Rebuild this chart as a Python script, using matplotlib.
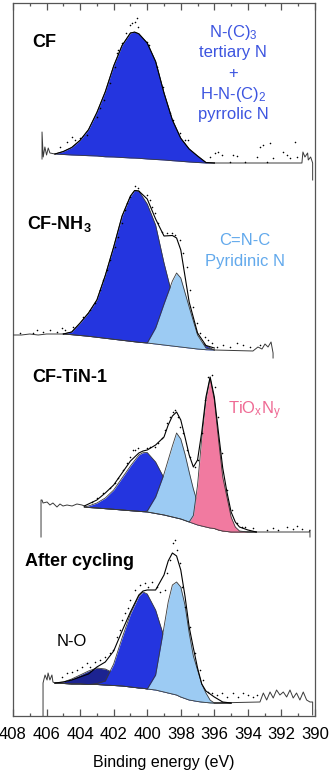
import numpy as np
import matplotlib
matplotlib.use("Agg")
import matplotlib.pyplot as plt
from matplotlib.ticker import MultipleLocator

plt.rcParams["font.family"] = ["Liberation Sans", "DejaVu Sans"]
plt.rcParams["mathtext.fontset"] = "custom"
plt.rcParams["mathtext.rm"] = "Liberation Sans"
plt.rcParams["mathtext.it"] = "Liberation Sans:italic"
plt.rcParams["mathtext.bf"] = "Liberation Sans:bold"

# colours
BLUE = "#2435df"
LIGHT = "#9ccbf3"
PINK = "#f17aa0"
NAVY = "#1c2391"
EDGE = "#3a3a3a"

# ---------------- CF ----------------
cf_offset = 553
cf_e = [405.5, 405, 404.5, 404, 403.5, 403, 402.5, 402, 401.5, 401, 400.75, 400.5,
        400, 399.5, 399, 398.5, 398, 397.5, 397, 396.5, 396]
cf_base = [9, 8.5, 8, 7.7, 7.3, 7, 6.2, 6, 5.5, 5, 4.9, 4.7, 4, 3.5, 3, 2.3, 1.7, 1, 0.5, 0, 0]
cf_pyrrolic = [0, 3, 7.5, 15, 26, 43.5, 65, 91, 112, 125, 126, 124.5, 116, 98, 67, 40.7,
               23, 13, 6.5, 0.5, 0]
cf_raw_left_e = [406.27, 406.27, 406.2, 406.1, 406.0, 405.9, 405.8, 405.5]
cf_raw_left = [4, 31, 6, 16, 8, 15, 10, 9]
cf_raw_right_e = [396, 390.78, 390.72, 390.6, 390.44, 390.4, 390.26, 390.14, 390.14]
cf_raw_right = [0, 0, 11, 6, 10, 3, 6, 0, -17]
cf_dots_e = [405.2, 404.78, 404.48, 404.3, 404.0, 403.6, 403.0, 402.8, 402.6, 402.2, 401.9,
             401.8, 401.74, 401.5, 401.27, 401.0, 400.9, 400.73, 400.6, 400.55, 400.0, 399.9,
             399.4, 399.06, 398.64, 398.46, 398.05, 397.75, 397.57, 396.26, 395.96, 395.78,
             395.55, 395.07, 394.9, 394.65, 394.17, 393.46, 393.28, 393.1, 392.86, 392.68,
             392.5, 391.9, 391.67, 391.5, 391.2, 391.07]
cf_dots = [16, 21, 26, 23, 25, 28, 46, 55, 63, 80, 96, 110, 113, 120, 130, 138, 140, 141,
           145, 136, 121, 118, 96, 76, 50, 43, 30, 23, 23, 6, 10, 11, 8, 1, 8, 7, 1, 6, 16,
           18, 1, 20, 5, 11, 8, 5, 21, 6]

# ---------------- CF-NH3 ----------------
nh_offset = 366
nh_e = [405, 404.5, 404, 403.5, 403, 402.5, 402, 401.5, 401, 400.75, 400.5, 400, 399.5,
        399, 398.5, 398.25, 398, 397.5, 397, 396.5, 396]
nh_base = [16, 15.3, 14.5, 13.7, 12.7, 11.7, 10.7, 9.7, 8.7, 8.2, 7.7, 7, 6, 5, 4, 3.5, 3,
           2, 1, 0.3, 0]
nh_pyrrolic = [0, 2.7, 12.5, 23.3, 37.3, 62.8, 92.3, 124, 145, 151.3, 151.3, 139, 119, 82,
               50, 39, 30, 18, 9, 4, 0]
nh_pyridinic = [0, 0, 0, 0, 0, 0, 0, 0, 0, 0, 0, 0, 16, 41, 65, 73.5, 69, 41, 14, 1.7, 0]
nh_env = [16, 18, 27, 37, 50, 74.5, 103, 134, 154, 159.5, 159, 151, 131, 114, 114.5, 112,
          100, 48, 17, 4.5, 2]
nh_raw_left_e = [408, 407.5, 407, 406.5, 406, 405.5, 405]
nh_raw_left = [15, 15, 16, 15, 16, 16, 16]
nh_raw_right_e = [396, 393.7, 393.4, 393.16, 392.98, 392.8, 392.62, 392.5, 392.5]
nh_raw_right = [0, -1, 3, 1, 6, 3, 8, -3, -8]
nh_dots_e = [407.58, 406.81, 406.57, 406.21, 405.8, 405.38, 405.08, 404.9, 404.42, 403.83,
             403.41, 403.11, 402.82, 402.64, 402.4, 402.22, 401.92, 401.74, 401.5, 401.33,
             401.21, 401.03, 400.73, 400.55, 400.01, 399.84, 399.72, 399.54, 399.36, 399.12,
             398.82, 398.52, 398.34, 398.05, 397.87, 397.63, 397.45, 397.27, 397.03, 396.86,
             396.56, 396.38, 396.14, 395.84, 395.49, 395.07, 394.65, 394.29, 393.88, 393.28]
nh_dots = [17, 17, 20, 18, 20, 18, 22, 20, 23, 33, 40, 47, 60, 70, 80, 90, 103, 113, 127,
           140, 147, 153, 164, 162, 155, 150, 143, 137, 127, 118, 117, 117, 115, 110, 97, 83,
           60, 43, 27, 17, 13, 10, 7, 3, 5, 3, 7, 5, 3, 5]

# ---------------- CF-TiN-1 ----------------
ti_offset = 184
ti_e = [403.75, 403.5, 403, 402.5, 402, 401.5, 401, 400.5, 400.25, 400, 399.5, 399, 398.75,
        398.5, 398.25, 398, 397.75, 397.5, 397.25, 397, 396.75, 396.5, 396.25, 396, 395.75,
        395.5, 395.25, 395, 394.75, 394.5, 394, 393.5]
ti_base = [25, 24.5, 24, 23.3, 22.7, 22, 21.3, 20.7, 20.3, 20, 18.5, 17, 16, 15, 14, 13,
           11.5, 10, 8.5, 7, 6, 5, 4, 3.5, 2, 1, 0.5, 0, 0, 0, 0, 0]
ti_pyrrolic = [0, 1.5, 5, 10.7, 19.3, 32, 44.7, 56.3, 59, 59.5, 51.5, 37, 29, 22, 16, 11,
               7, 4.5, 2.5, 1, 0, 0, 0, 0, 0, 0, 0, 0, 0, 0, 0, 0]
ti_pyridinic = [0, 0, 0, 0, 0, 0, 0, 0, 0, 1, 16.5, 41, 56, 71, 85, 80, 66.5, 50, 34.5, 22,
                12, 6, 1, 0, 0, 0, 0, 0, 0, 0, 0, 0]
ti_tioxny = [0, 0, 0, 0, 0, 0, 0, 0, 0, 0, 0, 0, 0, 0, 0, 0, 0, 0, 8, 40, 88, 127, 150,
             128.5, 90, 54, 34.5, 15, 5, 1, 0, 0]
ti_env = [26, 28, 32, 39, 47, 59, 71, 79, 81, 82, 87, 95, 107, 116, 120, 112, 95, 77, 65,
          72, 100, 135, 155, 135, 99, 64, 40, 20, 10, 5, 2, 0]
ti_raw_left_e = [406.33, 406.33, 406.27, 406.21, 405.97, 405.8, 405.62, 405.38, 405.2,
                 405.02, 404.78, 404.48, 404.19, 403.89, 403.75]
ti_raw_left = [-5, 32, 32, 29, 30, 27, 29, 25, 28, 26, 27, 26, 28, 27, 26]
ti_raw_right_e = [393.5, 390.35, 390.3, 390.3]
ti_raw_right = [0, 0, 2, -5]
ti_dots_e = [403.29, 402.99, 402.64, 402.22, 401.92, 401.74, 401.44, 401.21, 401.03, 400.85,
             400.73, 400.55, 400.01, 399.84, 399.54, 399.36, 399.12, 398.94, 398.82, 398.64,
             398.46, 398.34, 398.17, 398.05, 397.87, 397.63, 397.45, 397.15, 396.97, 396.74,
             396.56, 396.38, 396.14, 395.96, 395.78, 395.54, 395.25, 394.95, 394.65, 394.35,
             394.17, 393.7, 392.86, 392.5, 392.2, 391.67, 391.31, 391.07, 390.78]
ti_dots = [30, 34, 39, 44, 49, 54, 62, 69, 75, 82, 82, 84, 84, 85, 85, 89, 94, 102, 109,
           115, 120, 122, 115, 105, 99, 82, 75, 65, 72, 99, 132, 155, 157, 145, 115, 79, 42,
           22, 9, 5, 5, 4, 2, 4, 2, 5, 3, 6, 3]

# ---------------- After cycling ----------------
af_offset = 13
af_e = [405.5, 405, 404.5, 404, 403.5, 403, 402.5, 402, 401.5, 401, 400.5, 400.25, 400,
        399.5, 399, 398.75, 398.5, 398.25, 398, 397.75, 397.5, 397.25, 397, 396.75, 396.5,
        396.25, 396, 395.5, 395]
af_base = [20, 19.5, 19, 19, 18.5, 18.5, 18, 17.5, 17, 16, 15, 14.7, 14, 13, 11, 10, 9, 8,
           6, 4.5, 3, 2.3, 1.5, 1, 0.5, 0.2, 0, 0, 0]
af_no = [0, 1.5, 5, 9, 13.5, 16.5, 16, 12.5, 7, 2, 0, 0, 0, 0, 0, 0, 0, 0, 0, 0, 0, 0, 0,
         0, 0, 0, 0, 0, 0]
af_pyrrolic = [0, 0, 0, 0, 0, 1, 4, 21.5, 48, 73, 92, 96.3, 95, 80, 55, 43, 32, 23, 17, 9,
               5, 3, 1, 0, 0, 0, 0, 0, 0]
af_pyridinic = [0, 0, 0, 0, 0, 0, 0, 0, 0, 0, 0, 0, 0, 15, 65, 91, 109, 113, 110, 93.5,
                67, 44.7, 31.5, 18, 9.5, 2.7, 0, 0, 0]
af_env = [20, 21, 23, 26, 29, 36, 41, 52, 72, 91, 108, 112, 113, 113, 128, 142, 150, 147,
          133, 107, 76, 55, 35, 19, 12, 9, 6, 1, 0]
af_raw_left_e = [406.21, 406.21, 406.09, 405.97, 405.91, 405.8, 405.68, 405.62, 405.5]
af_raw_left = [-13, 20, 28, 23, 30, 23, 28, 21, 20]
af_raw_right_e = [396, 393.28, 393.08, 392.88, 392.68, 392.49, 392.29, 392.09, 391.89,
                  391.69, 391.49, 391.3, 391.1, 390.9, 390.7, 390.5, 390.3, 390.14, 390.14]
af_raw_right = [0, 1, 10, 3, 11, 5, 13, 8, 11, 6, 13, 5, 10, 3, 11, 3, 1, 1, -12]
af_dots_e = [405.08, 404.78, 404.48, 404.19, 403.89, 403.59, 403.41, 403.11, 402.82, 402.52,
             402.22, 402.04, 401.8, 401.62, 401.5, 401.33, 401.15, 401.03, 400.73, 400.43,
             400.13, 399.95, 399.72, 399.42, 399.24, 398.94, 398.82, 398.64, 398.46, 398.34,
             398.23, 398.05, 397.93, 397.75, 397.45, 397.15, 396.86, 396.68, 396.38, 396.14,
             395.84, 395.54, 395.25, 394.89, 394.59, 394.29, 393.99, 393.7, 393.46]
af_dots = [26, 30, 31, 33, 36, 40, 36, 41, 43, 46, 50, 53, 66, 73, 83, 90, 95, 103, 113, 118,
           120, 116, 121, 116, 111, 113, 130, 143, 160, 163, 153, 140, 116, 96, 76, 50, 33,
           23, 11, 10, 8, 10, 6, 10, 6, 10, 8, 6, 8]


def draw_panel(ax, offset, e, base, components, env, raws, dots_e, dots):
    e = np.array(e)
    base = np.array(base, dtype=float)
    # each component sits on the background, later ones in front
    for i, (values, color) in enumerate(components):
        top = base + np.array(values)
        z = 2 + i
        ax.fill_between(e, offset + base, offset + top, color=color, lw=0, zorder=z)
        ax.plot(e, offset + top, color=EDGE, lw=0.6, zorder=z + 0.5)
    ax.plot(e, offset + base, color=EDGE, lw=0.6, zorder=6)
    if env is not None:
        ax.plot(e, offset + np.array(env), color="k", lw=0.8, zorder=7)
    for raw_e, raw_y in raws:
        ax.plot(raw_e, offset + np.array(raw_y), color=EDGE, lw=0.7, zorder=6)
    ax.scatter(dots_e, offset + np.array(dots), s=1.3, c="k", lw=0, zorder=8)


fig = plt.figure(figsize=(3.31, 7.71), dpi=100)
ax = fig.add_axes([13 / 331, 55 / 771, 302 / 331, 713 / 771])

draw_panel(ax, cf_offset, cf_e, cf_base, [(cf_pyrrolic, BLUE)], None,
           [(cf_raw_left_e, cf_raw_left), (cf_raw_right_e, cf_raw_right)], cf_dots_e, cf_dots)
ax.plot(cf_e, cf_offset + np.array(cf_base) + np.array(cf_pyrrolic), color="k", lw=0.8, zorder=7)
draw_panel(ax, nh_offset, nh_e, nh_base, [(nh_pyrrolic, BLUE), (nh_pyridinic, LIGHT)], nh_env,
           [(nh_raw_left_e, nh_raw_left), (nh_raw_right_e, nh_raw_right)], nh_dots_e, nh_dots)
draw_panel(ax, ti_offset, ti_e, ti_base,
           [(ti_pyrrolic, BLUE), (ti_pyridinic, LIGHT), (ti_tioxny, PINK)], ti_env,
           [(ti_raw_left_e, ti_raw_left), (ti_raw_right_e, ti_raw_right)], ti_dots_e, ti_dots)
draw_panel(ax, af_offset, af_e, af_base,
           [(af_no, NAVY), (af_pyrrolic, BLUE), (af_pyridinic, LIGHT)], af_env,
           [(af_raw_left_e, af_raw_left), (af_raw_right_e, af_raw_right)], af_dots_e, af_dots)

# sample labels
bold = dict(fontsize=13, fontweight="bold", ha="left", va="baseline")
ax.text(406.87, 669, "CF", **bold)
ax.text(407.17, 487, r"CF-NH$_\mathbf{3}$", **bold)
ax.text(406.87, 334, "CF-TiN-1", **bold)
ax.text(407.28, 150, "After cycling", **bold)

# component labels
cf_lines = [r"N-(C)$_3$", "tertiary N", "+", r"H-N-(C)$_2$", "pyrrolic N"]
for line, h in zip(cf_lines, [679, 658.5, 638, 617.5, 597]):
    ax.text(394.89, h, line, color="#3d55e0", fontsize=12, ha="center", va="baseline")
ax.text(394.17, 471, "C=N-C", color="#62a9ec", fontsize=12, ha="center", va="baseline")
ax.text(394.17, 450, "Pyridinic N", color="#62a9ec", fontsize=12, ha="center", va="baseline")
ax.text(395.19, 302, r"TiO$_\mathrm{x}$N$_\mathrm{y}$", color="#ef6a94", fontsize=12,
        ha="left", va="baseline")
ax.text(404.48, 70, "N-O", color="k", fontsize=12, ha="center", va="baseline")

ax.set_xlim(408, 390)
ax.set_ylim(0, 713)
ax.set_yticks([])
ax.xaxis.set_major_locator(MultipleLocator(2))
ax.xaxis.set_minor_locator(MultipleLocator(1))
ax.tick_params(axis="x", which="both", direction="in", top=True, bottom=True,
               color="#555555", width=0.9)
ax.tick_params(axis="x", which="major", length=5, labelsize=12, pad=8)
ax.tick_params(axis="x", which="minor", length=2.5)
for spine in ax.spines.values():
    spine.set_color("#555555")
    spine.set_linewidth(0.9)
ax.set_xlabel("Binding energy (eV)", fontsize=11.5, labelpad=9)

fig.savefig("out.png", dpi=100)
